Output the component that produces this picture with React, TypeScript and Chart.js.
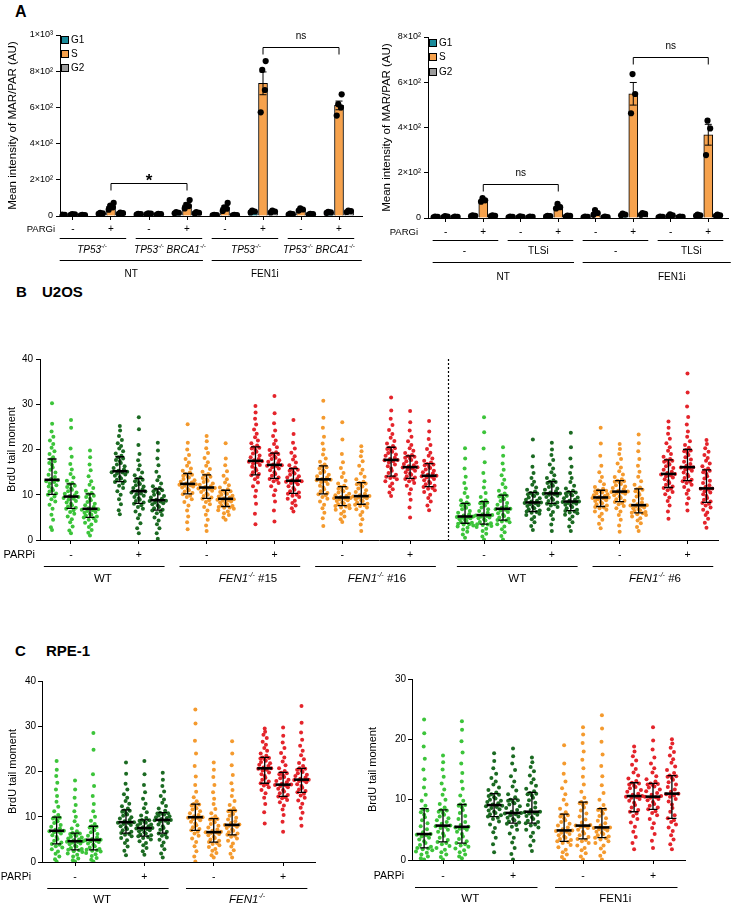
import React, { useEffect, useRef } from 'react';
import { Chart, registerables } from 'chart.js';

Chart.register(...registerables);

const FONT = "'Liberation Sans', Arial, Helvetica, sans-serif";

type Seg = { t: string; i?: boolean; sup?: boolean };

// ================= PANEL A (left) =================
const A_PHASES = ['G1', 'S', 'G2'];
const A1_PARGI = ['-', '+', '-', '+', '-', '+', '-', '+'];
const A1_G1 = [5, 15, 10, 18, 5, 25, 10, 20];
const A1_S = [9, 53, 13, 62, 47, 733, 36, 611];
const A1_G2 = [5, 16, 10, 18, 5, 25, 10, 26];
const A1_G1_SEM = [1, 2, 1, 2, 1, 3, 1, 2];
const A1_S_SEM = [1.5, 8, 1.5, 10, 9, 63, 3.5, 24];
const A1_G2_SEM = [1, 2, 1, 2, 1, 3, 1, 2];
const A1_G1_REPS = [[4, 6, 8], [12, 15, 18], [8, 10, 12], [15, 18, 22], [3, 5, 7], [20, 25, 30], [8, 10, 13], [17, 20, 23]];
const A1_S_REPS = [[6, 9, 11], [35, 48, 58, 72], [10, 13, 15], [42, 55, 62, 88], [28, 40, 48, 72], [573, 696, 807, 856], [30, 36, 42], [555, 600, 618, 672]];
const A1_G2_REPS = [[4, 5, 7], [12, 16, 19], [8, 10, 12], [14, 18, 22], [3, 5, 7], [20, 25, 30], [8, 10, 12], [22, 27, 30]];
const TP53: Seg[] = [{ t: 'TP53', i: true }, { t: '-/-', i: true, sup: true }];
const TP53_BRCA1: Seg[] = [{ t: 'TP53', i: true }, { t: '-/-', i: true, sup: true }, { t: ' BRCA1', i: true }, { t: '-/-', i: true, sup: true }];
const A1_LINES: Seg[][] = [TP53, TP53_BRCA1, TP53, TP53_BRCA1];
const A1_TREAT = ['NT', 'FEN1i'];
const A1_SIG = [{ a: 1, b: 3, y: 180, text: '*' }, { a: 5, b: 7, y: 935, text: 'ns' }];

// ================= PANEL A (right) =================
const A2_PARGI = ['-', '+', '-', '+', '-', '+', '-', '+'];
const A2_G1 = [5, 10, 5, 8, 5, 15, 5, 12];
const A2_S = [6, 79, 5, 51, 24, 549, 12, 368];
const A2_G2 = [5, 10, 5, 9, 4, 18, 5, 12];
const A2_G1_SEM = [1, 1, 1, 1, 1, 2, 1, 2];
const A2_S_SEM = [1, 5, 1, 6, 6, 50, 2, 46];
const A2_G2_SEM = [1, 1, 1, 1, 1, 2, 1, 2];
const A2_G1_REPS = [[3, 5, 6], [8, 10, 12], [3, 5, 6], [6, 8, 10], [3, 5, 6], [12, 15, 19], [3, 5, 6], [10, 12, 15]];
const A2_S_REPS = [[4, 6, 8], [72, 78, 88], [3, 5, 7], [42, 48, 62], [14, 22, 35], [463, 548, 636], [8, 12, 16], [278, 396, 430]];
const A2_G2_REPS = [[3, 5, 6], [8, 10, 12], [3, 5, 6], [6, 9, 11], [3, 4, 6], [14, 18, 22], [3, 5, 6], [10, 12, 15]];
const A2_LINES: Seg[][] = [[{ t: '-' }], [{ t: 'TLSi' }], [{ t: '-' }], [{ t: 'TLSi' }]];
const A2_TREAT = ['NT', 'FEN1i'];
const A2_SIG = [{ a: 1, b: 3, y: 150, text: 'ns' }, { a: 5, b: 7, y: 712, text: 'ns' }];

// ================= PANEL B (U2OS) =================
const B_CELL = ['WT', 'WT', 'FEN1', 'FEN1', 'FEN1', 'FEN1', 'WT', 'WT', 'FEN1', 'FEN1'];
const B_PARPI = ['-', '+', '-', '+', '-', '+', '-', '+', '-', '+'];
const B_GROUPS: Seg[][] = [
  [{ t: 'WT' }],
  [{ t: 'FEN1', i: true }, { t: '-/-', i: true, sup: true }, { t: ' #15' }],
  [{ t: 'FEN1', i: true }, { t: '-/-', i: true, sup: true }, { t: ' #16' }],
  [{ t: 'WT' }],
  [{ t: 'FEN1', i: true }, { t: '-/-', i: true, sup: true }, { t: ' #6' }],
];
const B_MED = [13.3, 9.6, 6.9, 15.2, 10.8, 8.8, 12.4, 11.6, 9.1, 17.5, 16.6, 13.1, 13.4, 9.4, 9.7, 17.7, 16.1, 14.2, 5.2, 5.5, 6.9, 8.3, 10.3, 8.5, 9.4, 10.7, 7.7, 14.6, 16.1, 11.4];
const B_LO = [10.1, 7.0, 5.0, 12.9, 8.1, 6.6, 10.2, 9.2, 7.4, 14.4, 13.6, 10.3, 10.2, 7.6, 7.9, 14.1, 13.6, 11.8, 3.7, 3.5, 4.4, 6.3, 8.1, 6.5, 7.4, 8.5, 6.0, 11.6, 13.1, 8.3];
const B_HI = [17.9, 12.4, 10.2, 18.4, 13.6, 11.3, 14.7, 14.4, 11.0, 20.6, 19.2, 15.8, 16.4, 11.8, 12.7, 20.5, 18.6, 16.9, 8.1, 8.5, 9.9, 10.5, 12.9, 10.7, 11.0, 13.1, 11.3, 17.7, 20.0, 15.5];
const B_POINTS: number[][] = [
  [2.2, 2.8, 4.5, 5.6, 6.9, 7.8, 8.5, 9.0, 9.6, 10.0, 10.3, 10.7, 11.0, 11.4, 11.8, 12.1, 12.5, 12.8, 13.0, 13.2, 13.5, 13.9, 14.4, 14.9, 15.5, 16.0, 16.6, 17.0, 17.4, 17.8, 18.3, 19.0, 19.6, 20.4, 21.2, 22.0, 22.8, 24.0, 25.7, 30.2],
  [1.5, 2.1, 3.0, 3.9, 4.6, 5.2, 5.8, 6.2, 6.6, 6.9, 7.1, 7.4, 7.7, 8.0, 8.3, 8.6, 8.9, 9.1, 9.3, 9.5, 9.7, 9.9, 10.2, 10.5, 10.8, 11.1, 11.4, 11.7, 12.0, 12.3, 12.6, 13.1, 13.8, 14.6, 15.6, 16.8, 18.4, 20.2, 24.8, 26.5],
  [1.0, 1.6, 2.2, 2.9, 3.4, 3.8, 4.2, 4.5, 4.8, 5.0, 5.2, 5.4, 5.6, 5.8, 6.0, 6.2, 6.4, 6.6, 6.7, 6.8, 7.0, 7.3, 7.7, 8.0, 8.4, 8.8, 9.1, 9.5, 9.8, 10.1, 10.4, 10.9, 11.5, 12.2, 13.0, 14.1, 15.4, 16.7, 18.3, 19.8],
  [5.7, 6.6, 7.9, 9.0, 10.0, 10.8, 11.5, 12.0, 12.5, 12.8, 13.0, 13.3, 13.6, 13.9, 14.2, 14.5, 14.7, 14.9, 15.0, 15.1, 15.3, 15.6, 15.9, 16.3, 16.7, 17.0, 17.4, 17.7, 18.0, 18.3, 18.6, 19.1, 19.6, 20.2, 20.8, 21.4, 22.1, 23.0, 24.2, 25.2],
  [1.5, 2.6, 3.7, 4.8, 5.6, 6.3, 6.9, 7.3, 7.7, 8.0, 8.3, 8.6, 8.9, 9.2, 9.5, 9.8, 10.1, 10.3, 10.5, 10.7, 10.9, 11.2, 11.5, 11.8, 12.1, 12.4, 12.7, 13.0, 13.3, 13.5, 13.8, 14.3, 14.9, 15.6, 16.5, 17.6, 19.0, 21.0, 24.5, 27.1],
  [0.3, 1.5, 2.6, 3.5, 4.3, 5.0, 5.5, 5.9, 6.3, 6.5, 6.7, 7.0, 7.3, 7.6, 7.9, 8.1, 8.3, 8.5, 8.6, 8.7, 8.9, 9.1, 9.4, 9.7, 10.0, 10.3, 10.5, 10.8, 11.0, 11.2, 11.5, 11.9, 12.5, 13.2, 14.0, 15.1, 16.5, 18.0, 19.8, 21.5],
  [2.4, 3.9, 5.2, 6.5, 7.6, 8.4, 9.0, 9.5, 9.8, 10.1, 10.4, 10.7, 11.0, 11.3, 11.6, 11.8, 12.0, 12.1, 12.2, 12.3, 12.5, 12.7, 12.9, 13.2, 13.5, 13.8, 14.0, 14.2, 14.4, 14.6, 14.9, 15.3, 15.8, 16.4, 17.1, 17.9, 18.8, 20.0, 21.5, 25.6],
  [2.0, 3.2, 4.5, 5.6, 6.5, 7.3, 7.9, 8.4, 8.8, 9.1, 9.4, 9.7, 10.0, 10.3, 10.6, 10.9, 11.1, 11.3, 11.4, 11.5, 11.7, 11.9, 12.2, 12.5, 12.8, 13.1, 13.4, 13.7, 14.0, 14.3, 14.6, 15.1, 15.7, 16.4, 17.2, 18.1, 19.2, 20.3, 21.8, 23.0],
  [4.5, 5.0, 5.5, 5.9, 6.3, 6.6, 6.9, 7.1, 7.2, 7.3, 7.5, 7.7, 7.9, 8.1, 8.3, 8.5, 8.7, 8.8, 8.9, 9.0, 9.2, 9.4, 9.6, 9.8, 10.0, 10.2, 10.4, 10.6, 10.8, 10.9, 11.2, 11.6, 12.1, 12.7, 13.4, 14.2, 15.2, 16.5, 18.0, 21.4],
  [3.5, 5.8, 8.0, 9.6, 10.9, 11.9, 12.7, 13.4, 13.9, 14.3, 14.6, 15.0, 15.4, 15.8, 16.2, 16.6, 16.9, 17.2, 17.3, 17.4, 17.6, 17.9, 18.3, 18.7, 19.1, 19.5, 19.9, 20.2, 20.4, 20.5, 20.9, 21.4, 22.0, 22.7, 23.5, 24.4, 25.5, 26.8, 28.2, 29.6],
  [4.1, 6.5, 8.5, 9.9, 11.0, 11.9, 12.6, 13.0, 13.3, 13.5, 13.8, 14.2, 14.6, 15.0, 15.4, 15.8, 16.1, 16.3, 16.4, 16.5, 16.7, 17.0, 17.3, 17.6, 17.9, 18.2, 18.5, 18.8, 19.0, 19.1, 19.4, 19.9, 20.5, 21.2, 22.0, 23.0, 24.2, 25.8, 28.0, 31.8],
  [6.3, 7.0, 7.6, 8.2, 8.7, 9.1, 9.5, 9.8, 10.0, 10.2, 10.5, 10.8, 11.1, 11.5, 11.9, 12.3, 12.6, 12.8, 12.9, 13.0, 13.2, 13.5, 13.8, 14.1, 14.4, 14.7, 15.0, 15.3, 15.5, 15.7, 16.0, 16.5, 17.1, 17.8, 18.5, 19.3, 20.2, 21.5, 23.4, 26.5],
  [3.1, 4.8, 6.0, 7.0, 7.8, 8.5, 9.1, 9.5, 9.9, 10.1, 10.4, 10.8, 11.2, 11.6, 12.0, 12.4, 12.8, 13.0, 13.2, 13.3, 13.5, 13.8, 14.1, 14.4, 14.8, 15.1, 15.4, 15.8, 16.1, 16.3, 16.7, 17.3, 18.0, 18.9, 20.0, 21.3, 22.8, 24.8, 27.0, 30.8],
  [4.0, 4.6, 5.2, 5.8, 6.3, 6.7, 7.0, 7.2, 7.4, 7.5, 7.7, 7.9, 8.1, 8.3, 8.6, 8.8, 9.0, 9.1, 9.2, 9.3, 9.5, 9.7, 9.9, 10.2, 10.5, 10.8, 11.0, 11.3, 11.5, 11.7, 12.0, 12.5, 13.1, 13.9, 14.8, 15.9, 17.2, 19.0, 22.2, 26.0],
  [2.0, 3.4, 4.6, 5.5, 6.2, 6.8, 7.2, 7.5, 7.7, 7.8, 8.0, 8.3, 8.6, 8.8, 9.0, 9.2, 9.4, 9.5, 9.6, 9.7, 9.9, 10.2, 10.6, 11.0, 11.4, 11.8, 12.1, 12.3, 12.5, 12.6, 12.9, 13.4, 14.0, 14.7, 15.5, 16.4, 17.4, 18.5, 19.6, 20.7],
  [9.7, 10.5, 11.2, 11.9, 12.5, 13.0, 13.4, 13.7, 13.9, 14.0, 14.4, 14.8, 15.3, 15.8, 16.3, 16.7, 17.1, 17.4, 17.6, 17.7, 17.9, 18.2, 18.6, 18.9, 19.2, 19.5, 19.8, 20.1, 20.3, 20.4, 20.8, 21.3, 21.9, 22.6, 23.4, 24.3, 25.4, 26.8, 28.6, 31.5],
  [5.0, 7.2, 8.9, 10.2, 11.2, 12.0, 12.6, 13.0, 13.3, 13.5, 13.8, 14.1, 14.4, 14.7, 15.0, 15.3, 15.6, 15.8, 16.0, 16.1, 16.3, 16.5, 16.8, 17.1, 17.4, 17.7, 18.0, 18.2, 18.4, 18.5, 18.8, 19.2, 19.7, 20.3, 21.0, 21.8, 22.8, 24.2, 26.0, 28.5],
  [6.6, 7.6, 8.5, 9.3, 10.0, 10.6, 11.0, 11.3, 11.5, 11.7, 12.0, 12.3, 12.6, 12.9, 13.2, 13.5, 13.8, 14.0, 14.1, 14.2, 14.4, 14.7, 15.0, 15.3, 15.6, 15.9, 16.2, 16.5, 16.7, 16.8, 17.1, 17.5, 18.0, 18.6, 19.3, 20.1, 21.0, 22.3, 24.0, 26.3],
  [0.5, 1.2, 1.8, 2.3, 2.7, 3.0, 3.2, 3.4, 3.5, 3.6, 3.8, 4.0, 4.2, 4.4, 4.6, 4.8, 4.9, 5.0, 5.1, 5.2, 5.4, 5.7, 6.0, 6.4, 6.8, 7.1, 7.4, 7.7, 7.9, 8.0, 8.3, 8.8, 9.5, 10.4, 11.4, 12.6, 14.0, 15.8, 18.0, 20.3],
  [0.1, 0.8, 1.4, 2.0, 2.5, 2.9, 3.1, 3.3, 3.4, 3.5, 3.7, 4.0, 4.3, 4.6, 4.8, 5.0, 5.2, 5.3, 5.4, 5.5, 5.7, 6.0, 6.4, 6.8, 7.2, 7.6, 7.9, 8.1, 8.3, 8.4, 8.8, 9.5, 10.4, 11.6, 13.0, 14.8, 17.2, 20.2, 23.8, 27.1],
  [0.1, 0.9, 1.7, 2.4, 3.0, 3.5, 3.9, 4.1, 4.3, 4.4, 4.7, 5.0, 5.3, 5.6, 5.9, 6.2, 6.5, 6.7, 6.8, 6.9, 7.1, 7.4, 7.8, 8.2, 8.6, 9.0, 9.3, 9.6, 9.8, 9.9, 10.3, 10.9, 11.6, 12.4, 13.3, 14.3, 15.5, 16.9, 18.6, 20.5],
  [2.2, 3.1, 3.9, 4.6, 5.1, 5.5, 5.8, 6.0, 6.2, 6.3, 6.5, 6.8, 7.0, 7.3, 7.5, 7.7, 7.9, 8.1, 8.2, 8.3, 8.5, 8.7, 8.9, 9.2, 9.4, 9.7, 9.9, 10.1, 10.3, 10.4, 10.7, 11.1, 11.6, 12.2, 12.9, 13.7, 14.8, 16.2, 18.5, 22.2],
  [2.0, 3.4, 4.6, 5.5, 6.2, 6.8, 7.3, 7.6, 7.9, 8.0, 8.3, 8.6, 8.9, 9.2, 9.5, 9.8, 10.0, 10.1, 10.2, 10.3, 10.5, 10.8, 11.1, 11.4, 11.7, 12.0, 12.3, 12.6, 12.8, 12.9, 13.2, 13.7, 14.3, 15.0, 15.8, 16.7, 17.7, 18.8, 20.0, 21.5],
  [2.0, 3.0, 3.9, 4.6, 5.2, 5.6, 5.9, 6.1, 6.3, 6.4, 6.7, 7.0, 7.3, 7.6, 7.8, 8.0, 8.2, 8.3, 8.4, 8.5, 8.7, 8.9, 9.2, 9.4, 9.7, 9.9, 10.1, 10.3, 10.5, 10.6, 10.9, 11.4, 12.0, 12.8, 13.7, 14.8, 16.2, 18.0, 20.5, 23.7],
  [2.6, 3.6, 4.5, 5.2, 5.8, 6.3, 6.7, 7.0, 7.2, 7.3, 7.6, 7.9, 8.1, 8.4, 8.6, 8.8, 9.0, 9.2, 9.3, 9.4, 9.5, 9.7, 9.9, 10.1, 10.3, 10.5, 10.7, 10.8, 10.9, 11.0, 11.3, 11.7, 12.3, 13.0, 13.9, 15.0, 16.4, 18.6, 21.3, 24.8],
  [1.8, 3.2, 4.5, 5.5, 6.3, 7.0, 7.5, 7.9, 8.2, 8.4, 8.7, 9.0, 9.3, 9.6, 9.9, 10.2, 10.4, 10.5, 10.6, 10.7, 10.9, 11.2, 11.5, 11.8, 12.1, 12.4, 12.7, 12.9, 13.0, 13.1, 13.4, 13.9, 14.5, 15.2, 16.0, 16.9, 17.9, 19.0, 20.1, 21.2],
  [2.0, 2.9, 3.7, 4.3, 4.8, 5.2, 5.5, 5.7, 5.9, 6.0, 6.2, 6.4, 6.6, 6.8, 7.0, 7.2, 7.4, 7.5, 7.6, 7.7, 7.9, 8.3, 8.7, 9.1, 9.6, 10.0, 10.4, 10.8, 11.1, 11.2, 11.6, 12.2, 13.0, 14.0, 15.1, 16.4, 17.9, 19.6, 21.4, 23.3],
  [4.7, 6.3, 7.6, 8.6, 9.4, 10.1, 10.6, 11.0, 11.3, 11.5, 11.8, 12.2, 12.6, 13.0, 13.4, 13.8, 14.1, 14.3, 14.5, 14.6, 14.8, 15.1, 15.5, 15.9, 16.3, 16.7, 17.0, 17.3, 17.5, 17.6, 17.9, 18.4, 19.0, 19.7, 20.5, 21.4, 22.4, 23.5, 24.8, 26.2],
  [6.5, 8.0, 9.2, 10.2, 11.0, 11.7, 12.2, 12.6, 12.9, 13.0, 13.3, 13.7, 14.1, 14.5, 14.9, 15.3, 15.6, 15.8, 16.0, 16.1, 16.4, 16.8, 17.3, 17.8, 18.3, 18.8, 19.2, 19.6, 19.8, 19.9, 20.4, 21.0, 21.8, 22.8, 24.0, 25.5, 27.2, 29.5, 32.6, 36.8],
  [2.7, 3.8, 4.7, 5.5, 6.1, 6.7, 7.2, 7.6, 8.0, 8.2, 8.5, 8.9, 9.3, 9.7, 10.1, 10.5, 10.8, 11.1, 11.3, 11.4, 11.7, 12.1, 12.6, 13.1, 13.6, 14.1, 14.6, 15.0, 15.3, 15.4, 15.8, 16.3, 16.9, 17.5, 18.1, 18.8, 19.5, 20.3, 21.2, 22.1],
];

// ================= PANEL C (RPE-1), left: FEN1-/- =================
const C1_CELL = ['WT', 'WT', 'FEN1', 'FEN1'];
const C1_PARPI = ['-', '+', '-', '+'];
const C1_GROUPS: Seg[][] = [[{ t: 'WT' }], [{ t: 'FEN1', i: true }, { t: '-/-', i: true, sup: true }]];
const C1_MED = [6.9, 4.6, 4.9, 8.8, 7.5, 9.3, 9.9, 6.6, 8.2, 20.7, 17.1, 18.2];
const C1_LO = [4.0, 2.7, 2.7, 6.4, 5.7, 6.4, 7.0, 4.4, 6.0, 17.4, 14.5, 15.4];
const C1_HI = [9.9, 6.4, 7.9, 11.5, 9.3, 10.9, 12.8, 9.6, 11.4, 23.1, 19.8, 20.7];
const C1_POINTS: number[][] = [
  [0.1, 0.6, 1.2, 1.8, 2.3, 2.8, 3.2, 3.5, 3.8, 4.0, 4.3, 4.7, 5.1, 5.5, 5.9, 6.3, 6.6, 6.7, 6.8, 6.9, 7.1, 7.4, 7.8, 8.2, 8.6, 9.0, 9.3, 9.6, 9.8, 9.9, 10.4, 11.2, 12.2, 13.3, 14.6, 16.0, 17.5, 19.0, 20.4, 22.3],
  [0.1, 0.4, 0.8, 1.2, 1.6, 1.9, 2.2, 2.4, 2.6, 2.7, 2.9, 3.1, 3.4, 3.6, 3.9, 4.1, 4.3, 4.4, 4.5, 4.6, 4.8, 5.0, 5.2, 5.4, 5.6, 5.8, 6.0, 6.2, 6.3, 6.4, 6.8, 7.4, 8.1, 9.0, 10.0, 11.2, 12.6, 14.2, 16.0, 18.0],
  [0.1, 0.5, 0.9, 1.3, 1.7, 2.0, 2.3, 2.5, 2.6, 2.7, 2.9, 3.2, 3.5, 3.8, 4.1, 4.4, 4.6, 4.7, 4.8, 4.9, 5.1, 5.4, 5.8, 6.2, 6.6, 7.0, 7.3, 7.6, 7.8, 7.9, 8.4, 9.1, 10.0, 11.2, 12.8, 14.6, 16.8, 19.4, 24.8, 28.5],
  [1.5, 2.5, 3.4, 4.2, 4.8, 5.3, 5.7, 6.0, 6.2, 6.4, 6.7, 7.0, 7.3, 7.6, 7.9, 8.2, 8.4, 8.6, 8.7, 8.8, 9.0, 9.3, 9.6, 9.9, 10.2, 10.5, 10.8, 11.1, 11.3, 11.4, 11.8, 12.3, 12.9, 13.5, 14.2, 15.0, 16.0, 17.3, 19.5, 22.0],
  [1.6, 2.4, 3.1, 3.7, 4.2, 4.6, 5.0, 5.3, 5.5, 5.7, 5.9, 6.1, 6.3, 6.6, 6.8, 7.0, 7.2, 7.3, 7.4, 7.5, 7.7, 7.9, 8.1, 8.3, 8.5, 8.7, 8.9, 9.1, 9.2, 9.3, 9.7, 10.3, 11.0, 11.9, 12.9, 14.0, 15.4, 17.0, 19.4, 22.3],
  [1.0, 1.9, 2.8, 3.6, 4.3, 4.9, 5.4, 5.8, 6.1, 6.3, 6.7, 7.1, 7.5, 7.9, 8.3, 8.6, 8.9, 9.1, 9.2, 9.3, 9.5, 9.7, 9.9, 10.1, 10.3, 10.5, 10.6, 10.7, 10.8, 10.9, 11.3, 11.8, 12.4, 13.1, 13.8, 14.6, 15.6, 16.8, 18.2, 19.7],
  [0.1, 1.2, 2.4, 3.5, 4.4, 5.2, 5.8, 6.3, 6.7, 7.0, 7.3, 7.7, 8.1, 8.5, 8.9, 9.2, 9.5, 9.7, 9.8, 9.9, 10.1, 10.4, 10.8, 11.2, 11.6, 11.9, 12.2, 12.5, 12.7, 12.8, 13.4, 14.3, 15.5, 17.0, 18.9, 21.2, 24.0, 26.8, 30.6, 33.7],
  [1.0, 1.5, 2.0, 2.5, 2.9, 3.3, 3.7, 4.0, 4.2, 4.4, 4.7, 5.0, 5.3, 5.6, 5.9, 6.2, 6.4, 6.5, 6.6, 6.7, 6.9, 7.2, 7.6, 8.0, 8.4, 8.8, 9.1, 9.4, 9.5, 9.6, 10.1, 10.8, 11.7, 12.8, 14.0, 15.4, 17.0, 18.8, 20.4, 22.0],
  [1.0, 1.8, 2.6, 3.4, 4.1, 4.7, 5.2, 5.6, 5.8, 6.0, 6.3, 6.6, 6.9, 7.2, 7.5, 7.8, 8.0, 8.1, 8.2, 8.3, 8.6, 9.0, 9.4, 9.8, 10.2, 10.6, 10.9, 11.2, 11.3, 11.4, 11.9, 12.6, 13.5, 14.6, 15.9, 17.4, 19.2, 21.4, 24.0, 26.7],
  [8.5, 11.0, 12.8, 14.2, 15.2, 15.9, 16.5, 16.9, 17.2, 17.4, 17.8, 18.2, 18.6, 19.0, 19.4, 19.8, 20.2, 20.4, 20.6, 20.7, 20.9, 21.2, 21.5, 21.8, 22.1, 22.4, 22.7, 22.9, 23.0, 23.1, 23.5, 24.0, 24.6, 25.2, 25.9, 26.6, 27.4, 28.1, 28.8, 29.5],
  [6.7, 8.9, 10.4, 11.6, 12.5, 13.2, 13.7, 14.1, 14.3, 14.5, 14.8, 15.2, 15.6, 15.9, 16.2, 16.5, 16.8, 16.9, 17.0, 17.1, 17.3, 17.6, 17.9, 18.2, 18.5, 18.8, 19.1, 19.4, 19.6, 19.7, 20.1, 20.7, 21.4, 22.2, 23.1, 24.1, 25.2, 26.4, 27.9, 29.7],
  [8.0, 9.6, 10.9, 12.0, 12.9, 13.6, 14.2, 14.7, 15.1, 15.4, 15.7, 16.0, 16.4, 16.8, 17.2, 17.6, 17.9, 18.0, 18.1, 18.2, 18.4, 18.7, 19.0, 19.3, 19.6, 19.9, 20.2, 20.4, 20.6, 20.7, 21.2, 21.9, 22.7, 23.6, 24.6, 25.7, 27.0, 28.6, 30.8, 34.5],
];

// ================= PANEL C (RPE-1), right: FEN1i =================
const C2_CELL = ['WT', 'WT', 'FEN1', 'FEN1'];
const C2_PARPI = ['-', '+', '-', '+'];
const C2_GROUPS: Seg[][] = [[{ t: 'WT' }], [{ t: 'FEN1i' }]];
const C2_MED = [4.3, 5.7, 5.5, 9.1, 7.8, 8.0, 4.9, 5.7, 5.4, 10.6, 10.5, 11.0];
const C2_LO = [2.0, 3.0, 2.8, 7.2, 6.1, 6.1, 3.1, 3.5, 3.7, 8.0, 8.4, 6.9];
const C2_HI = [8.5, 8.3, 9.2, 11.0, 10.1, 11.2, 7.6, 9.6, 8.5, 12.8, 12.7, 14.0];
const C2_POINTS: number[][] = [
  [0.1, 0.3, 0.6, 0.9, 1.2, 1.4, 1.6, 1.8, 1.9, 2.0, 2.2, 2.5, 2.8, 3.1, 3.4, 3.7, 3.9, 4.1, 4.2, 4.3, 4.6, 5.1, 5.6, 6.1, 6.6, 7.1, 7.5, 7.9, 8.2, 8.4, 9.0, 9.8, 10.8, 12.0, 13.4, 15.0, 16.8, 18.8, 21.0, 23.3],
  [0.1, 0.5, 0.9, 1.3, 1.7, 2.0, 2.3, 2.6, 2.8, 3.0, 3.3, 3.7, 4.0, 4.4, 4.7, 5.0, 5.3, 5.5, 5.6, 5.7, 6.0, 6.3, 6.6, 6.9, 7.2, 7.5, 7.8, 8.0, 8.2, 8.3, 8.7, 9.3, 10.0, 10.8, 11.7, 12.7, 13.8, 15.0, 16.2, 17.3],
  [0.3, 0.6, 0.9, 1.3, 1.6, 1.9, 2.2, 2.4, 2.6, 2.8, 3.1, 3.5, 3.9, 4.3, 4.7, 5.0, 5.2, 5.3, 5.4, 5.5, 5.8, 6.3, 6.8, 7.3, 7.8, 8.3, 8.7, 9.0, 9.1, 9.2, 9.8, 10.7, 11.8, 13.0, 14.4, 16.0, 17.8, 19.7, 21.6, 23.0],
  [1.3, 2.6, 3.7, 4.6, 5.3, 5.9, 6.4, 6.8, 7.0, 7.2, 7.4, 7.6, 7.8, 8.0, 8.2, 8.4, 8.6, 8.8, 8.9, 9.0, 9.2, 9.4, 9.6, 9.8, 10.0, 10.2, 10.4, 10.6, 10.8, 10.9, 11.2, 11.6, 12.0, 12.5, 13.0, 13.6, 14.3, 15.2, 16.4, 17.7],
  [0.1, 1.0, 2.0, 2.9, 3.7, 4.4, 5.0, 5.5, 5.8, 6.0, 6.2, 6.4, 6.6, 6.8, 7.0, 7.2, 7.4, 7.6, 7.7, 7.8, 8.0, 8.3, 8.6, 8.9, 9.2, 9.4, 9.6, 9.8, 9.9, 10.0, 10.4, 10.9, 11.5, 12.2, 13.0, 13.9, 14.9, 16.0, 17.2, 18.5],
  [1.5, 2.4, 3.2, 3.9, 4.5, 5.0, 5.4, 5.7, 5.9, 6.1, 6.3, 6.5, 6.8, 7.1, 7.3, 7.5, 7.7, 7.8, 7.9, 8.0, 8.3, 8.7, 9.1, 9.5, 9.9, 10.3, 10.7, 10.9, 11.0, 11.1, 11.4, 11.8, 12.3, 12.8, 13.4, 14.0, 14.7, 15.4, 16.2, 17.0],
  [0.1, 0.5, 0.9, 1.3, 1.7, 2.1, 2.5, 2.8, 3.0, 3.1, 3.3, 3.5, 3.7, 3.9, 4.1, 4.3, 4.5, 4.7, 4.8, 4.9, 5.1, 5.4, 5.7, 6.0, 6.3, 6.6, 6.9, 7.2, 7.4, 7.5, 7.9, 8.5, 9.2, 10.0, 10.9, 11.9, 13.0, 14.3, 16.0, 19.0],
  [0.1, 0.6, 1.1, 1.6, 2.0, 2.4, 2.8, 3.1, 3.3, 3.5, 3.8, 4.1, 4.4, 4.7, 5.0, 5.3, 5.5, 5.6, 5.7, 5.8, 6.2, 6.7, 7.2, 7.7, 8.2, 8.7, 9.1, 9.4, 9.5, 9.6, 10.3, 11.3, 12.5, 13.8, 15.2, 16.6, 18.0, 19.4, 20.8, 22.0],
  [0.1, 0.7, 1.3, 1.9, 2.4, 2.8, 3.1, 3.4, 3.6, 3.7, 3.9, 4.1, 4.3, 4.5, 4.7, 4.9, 5.1, 5.2, 5.3, 5.4, 5.7, 6.1, 6.5, 6.9, 7.3, 7.7, 8.0, 8.3, 8.4, 8.5, 9.1, 10.0, 11.1, 12.4, 13.9, 15.6, 17.5, 19.6, 21.8, 24.0],
  [1.8, 2.8, 3.8, 4.7, 5.5, 6.2, 6.8, 7.3, 7.7, 8.0, 8.3, 8.7, 9.1, 9.5, 9.8, 10.1, 10.3, 10.4, 10.5, 10.6, 10.8, 11.0, 11.3, 11.6, 11.9, 12.1, 12.3, 12.5, 12.7, 12.8, 13.1, 13.5, 14.0, 14.5, 15.1, 15.8, 16.5, 17.2, 18.0, 18.8],
  [2.0, 3.2, 4.3, 5.3, 6.1, 6.8, 7.4, 7.8, 8.1, 8.4, 8.7, 9.0, 9.3, 9.6, 9.9, 10.1, 10.3, 10.4, 10.5, 10.6, 10.8, 11.1, 11.4, 11.7, 12.0, 12.2, 12.4, 12.5, 12.6, 12.7, 13.0, 13.4, 13.9, 14.5, 15.2, 16.0, 17.0, 18.3, 19.8, 22.0],
  [1.8, 2.6, 3.4, 4.1, 4.8, 5.4, 5.9, 6.3, 6.6, 6.9, 7.4, 8.0, 8.6, 9.2, 9.7, 10.1, 10.5, 10.7, 10.9, 11.0, 11.3, 11.7, 12.1, 12.5, 12.9, 13.3, 13.6, 13.8, 13.9, 14.0, 14.4, 14.9, 15.5, 16.1, 16.7, 17.3, 17.9, 18.6, 19.3, 20.0],
];

// ================= STYLES =================
const PHASE_COLORS = ['#1a8b9b', '#f6a24d', '#9b9b9b'];
const DOT_COLORS: Record<string, string> = {
  'WT-': '#3cc43a',
  'WT+': '#1b6a22',
  'FEN1-': '#f49a2e',
  'FEN1+': '#e4242b',
};

// ================= helpers =================
function drawRich(ctx: CanvasRenderingContext2D, segs: Seg[], cx: number, cy: number, size: number) {
  const fontOf = (s: Seg) => `${s.i ? 'italic ' : ''}${s.sup ? (size * 0.62).toFixed(1) : size}px ${FONT}`;
  let total = 0;
  for (const s of segs) { ctx.font = fontOf(s); total += ctx.measureText(s.t).width; }
  let x = cx - total / 2;
  ctx.textAlign = 'left';
  ctx.textBaseline = 'middle';
  for (const s of segs) {
    ctx.font = fontOf(s);
    ctx.fillText(s.t, x, s.sup ? cy - size * 0.36 : cy);
    x += ctx.measureText(s.t).width;
  }
}

type Level = { lineDy: number; labelDy: number; font: number; items: { x0: number; x1: number; lx: number; label: Seg[] }[] };
type Annot = { rowLabel: string; rowGap: number; rowFont: number; signFont: number; signs: string[]; signX: number[]; signDy: number; levels: Level[] };

function annotPlugin(a: Annot) {
  return {
    id: 'annot',
    afterDraw(chart: any) {
      const { ctx, chartArea, scales } = chart;
      const xs = scales.x;
      const base = chartArea.bottom;
      ctx.save();
      ctx.fillStyle = '#000';
      ctx.strokeStyle = '#000';
      ctx.font = `${a.rowFont}px ${FONT}`;
      ctx.textAlign = 'right';
      ctx.textBaseline = 'middle';
      ctx.fillText(a.rowLabel, chartArea.left - a.rowGap, base + a.signDy);
      ctx.font = `${a.signFont}px ${FONT}`;
      ctx.textAlign = 'center';
      a.signs.forEach((s, i) => ctx.fillText(s, xs.getPixelForValue(a.signX[i]), base + a.signDy));
      for (const lv of a.levels) {
        for (const it of lv.items) {
          const y = Math.round(base + lv.lineDy) + 0.5;
          ctx.lineWidth = 1;
          ctx.beginPath();
          ctx.moveTo(xs.getPixelForValue(it.x0), y);
          ctx.lineTo(xs.getPixelForValue(it.x1), y);
          ctx.stroke();
          drawRich(ctx, it.label, xs.getPixelForValue(it.lx), base + lv.labelDy, lv.font);
        }
      }
      ctx.restore();
    },
  };
}

function axisStyle(tickSize: number, tickPad: number) {
  return {
    grid: { display: true, drawOnChartArea: false, drawTicks: true, tickLength: 4, color: '#000', lineWidth: 1, offset: false },
    border: { display: true, color: '#000', width: 1 },
    ticks: { font: { size: tickSize, family: FONT }, color: '#000', padding: tickPad },
  };
}

// ================= bar panel =================
type BarOpts = {
  g1: number[]; s: number[]; g2: number[]; sem: number[][]; reps: number[][][];
  pargi: string[]; lines: Seg[][]; treat: string[]; sig: { a: number; b: number; y: number; text: string }[];
  yMax: number; xMin: number; xMax: number; yW: number; xH: number; padTop: number; padRight: number;
  titlePad: number; legendDy: number[]; lineLx: number[]; treatLx: number[]; rowGap: number;
  dys: number[];
};

const JA = [-0.06, 0.05, -0.02, 0.07];
const sci = (v: number) => (v === 0 ? '0' : v >= 1000 ? `${v / 1000}×10³` : `${v / 100}×10²`);

function barConfig(o: BarOpts) {
  const offs = [-0.265, 0, 0.265];
  const vals = [o.g1, o.s, o.g2];
  const centers = o.pargi.map((_, i) => i);
  const bars = vals.map((arr, p) => ({
    type: 'bar',
    label: A_PHASES[p],
    data: arr.map((v, i) => ({ x: i + offs[p], y: v })),
    backgroundColor: PHASE_COLORS[p],
    borderColor: '#000',
    borderWidth: 1,
    barThickness: 9,
    grouped: false,
    order: 3,
  }));
  const dots = o.reps.map((rr, p) => ({
    type: 'scatter',
    data: rr.flatMap((list, i) => list.map((v, j) => ({ x: i + offs[p] + JA[j % JA.length], y: v }))),
    pointRadius: 3.1,
    pointBackgroundColor: '#000',
    pointBorderWidth: 0,
    order: 1,
  }));
  const annot: Annot = {
    rowLabel: 'PARGi', rowGap: o.rowGap, rowFont: 9.5, signFont: 10, signs: o.pargi, signX: centers, signDy: o.dys[0],
    levels: [
      { lineDy: o.dys[1], labelDy: o.dys[2], font: 10, items: o.lines.map((l, g) => ({ x0: 2 * g - 0.35, x1: 2 * g + 1.4, lx: o.lineLx[g], label: l })) },
      { lineDy: o.dys[3], labelDy: o.dys[4], font: 10, items: o.treat.map((t, g) => ({ x0: 4 * g - 0.35, x1: 4 * g + 3.42 + (g === 1 ? 0.18 : 0), lx: o.treatLx[g], label: [{ t }] })) },
    ],
  };
  const extras = {
    id: 'extras',
    afterDatasetsDraw(chart: any) {
      const { ctx, scales: { x, y }, chartArea } = chart;
      ctx.save();
      ctx.strokeStyle = '#000';
      ctx.fillStyle = '#000';
      ctx.lineWidth = 1;
      // error bars
      vals.forEach((arr, p) => arr.forEach((v, i) => {
        const px = x.getPixelForValue(i + offs[p]);
        const y1 = y.getPixelForValue(v + o.sem[p][i]);
        const y0 = y.getPixelForValue(Math.max(0, v - o.sem[p][i]));
        ctx.beginPath();
        ctx.moveTo(px, y0); ctx.lineTo(px, y1);
        ctx.moveTo(px - 3.5, y1); ctx.lineTo(px + 3.5, y1);
        ctx.moveTo(px - 3.5, y0); ctx.lineTo(px + 3.5, y0);
        ctx.stroke();
      }));
      // significance brackets
      o.sig.forEach((s) => {
        const xa = x.getPixelForValue(s.a), xb = x.getPixelForValue(s.b);
        const yy = Math.round(y.getPixelForValue(s.y)) + 0.5;
        ctx.beginPath();
        ctx.moveTo(xa, yy + 7); ctx.lineTo(xa, yy); ctx.lineTo(xb, yy); ctx.lineTo(xb, yy + 7);
        ctx.stroke();
        ctx.textAlign = 'center';
        ctx.textBaseline = 'alphabetic';
        if (s.text === '*') {
          ctx.font = `bold 17px ${FONT}`;
          ctx.fillText(s.text, (xa + xb) / 2, yy + 2);
        } else {
          ctx.font = `10px ${FONT}`;
          ctx.fillText(s.text, (xa + xb) / 2, yy - 9);
        }
      });
      // legend
      ctx.font = `10px ${FONT}`;
      ctx.textAlign = 'left';
      ctx.textBaseline = 'middle';
      A_PHASES.forEach((ph, p) => {
        const cy = chartArea.top + o.legendDy[p];
        ctx.fillStyle = PHASE_COLORS[p];
        ctx.fillRect(chartArea.left + 1.5, cy - 3.5, 7, 7);
        ctx.strokeRect(chartArea.left + 1.5, cy - 3.5, 7, 7);
        ctx.fillStyle = '#000';
        ctx.fillText(ph, chartArea.left + 11, cy + 0.5);
      });
      ctx.restore();
    },
  };
  const ax = axisStyle(9, 3);
  return {
    type: 'bar',
    data: { datasets: [...bars, ...dots] },
    options: {
      animation: false,
      responsive: false,
      layout: { padding: { left: 0, top: o.padTop, right: o.padRight, bottom: 0 } },
      plugins: { legend: { display: false }, tooltip: { enabled: false }, title: { display: false } },
      scales: {
        x: {
          type: 'linear', min: o.xMin, max: o.xMax, offset: false,
          afterBuildTicks: (s: any) => { s.ticks = centers.map((v) => ({ value: v })); },
          afterFit: (s: any) => { s.height = o.xH; },
          grid: ax.grid, border: ax.border,
          ticks: { display: false },
        },
        y: {
          type: 'linear', min: 0, max: o.yMax,
          afterFit: (s: any) => { s.width = o.yW; },
          grid: ax.grid, border: ax.border,
          ticks: { ...ax.ticks, stepSize: 200, callback: (v: number) => sci(v) },
          title: { display: true, text: 'Mean intensity of MAR/PAR (AU)', color: '#000', font: { size: 11.5, family: FONT }, padding: { top: o.titlePad, bottom: 0 } },
        },
      },
    },
    plugins: [extras, annotPlugin(annot)],
  };
}

// ================= dot panel =================
const JIT = [0, -0.62, 0.62, -0.31, 0.31, -0.93, 0.93, -0.16, 0.47, -0.78, 0.78, -0.47, 0.16];
function swarm(values: number[], x: number, half: number, band: number) {
  return values.map((v, i) => {
    let n = 0;
    for (const u of values) if (Math.abs(u - v) <= band) n++;
    const w = half * Math.min(1, n / 10);
    return { x: x + JIT[i % JIT.length] * w, y: v };
  });
}

type DotOpts = {
  cell: string[]; parpi: string[]; points: number[][]; med: number[]; lo: number[]; hi: number[];
  centers: number[]; colStep: number; xMin: number; xMax: number; yMax: number;
  yW: number; xH: number; padTop: number; padRight: number; titlePad: number; tickPad: number;
  half: number; annot: Annot; divider?: number;
};

function dotConfig(o: DotOpts) {
  const colX: number[] = [];
  const colColor: string[] = [];
  o.centers.forEach((c, k) => {
    for (let j = -1; j <= 1; j++) {
      colX.push(c + j * o.colStep);
      colColor.push(DOT_COLORS[o.cell[k] + o.parpi[k]]);
    }
  });
  const datasets = o.points.map((vals, k) => ({
    type: 'scatter',
    data: swarm(vals, colX[k], o.half, 1.1),
    pointRadius: 2.0,
    pointBackgroundColor: colColor[k],
    pointBorderWidth: 0,
  }));
  const medPlugin = {
    id: 'med',
    afterDatasetsDraw(chart: any) {
      const { ctx, scales: { x, y }, chartArea } = chart;
      ctx.save();
      ctx.strokeStyle = '#000';
      if (o.divider !== undefined) {
        const dx = Math.round(x.getPixelForValue(o.divider)) + 0.5;
        ctx.lineWidth = 1.2;
        ctx.setLineDash([2, 2]);
        ctx.beginPath();
        ctx.moveTo(dx, chartArea.top);
        ctx.lineTo(dx, chartArea.bottom);
        ctx.stroke();
        ctx.setLineDash([]);
      }
      colX.forEach((cx, k) => {
        const px = x.getPixelForValue(cx);
        const ym = y.getPixelForValue(o.med[k]);
        const yl = y.getPixelForValue(o.lo[k]);
        const yh = y.getPixelForValue(o.hi[k]);
        ctx.lineWidth = 1.3;
        ctx.beginPath();
        ctx.moveTo(px, yl); ctx.lineTo(px, yh);
        ctx.moveTo(px - 4.5, yl); ctx.lineTo(px + 4.5, yl);
        ctx.moveTo(px - 4.5, yh); ctx.lineTo(px + 4.5, yh);
        ctx.stroke();
        ctx.lineWidth = 2.6;
        ctx.beginPath();
        ctx.moveTo(px - 7.5, ym); ctx.lineTo(px + 7.5, ym);
        ctx.stroke();
      });
      ctx.restore();
    },
  };
  const ax = axisStyle(10, o.tickPad);
  return {
    type: 'scatter',
    data: { datasets },
    options: {
      animation: false,
      responsive: false,
      layout: { padding: { left: 0, top: o.padTop, right: o.padRight, bottom: 0 } },
      plugins: { legend: { display: false }, tooltip: { enabled: false }, title: { display: false } },
      scales: {
        x: {
          type: 'linear', min: o.xMin, max: o.xMax, offset: false,
          afterBuildTicks: (s: any) => { s.ticks = o.centers.map((v) => ({ value: v })); },
          afterFit: (s: any) => { s.height = o.xH; },
          grid: ax.grid, border: ax.border,
          ticks: { display: false },
        },
        y: {
          type: 'linear', min: 0, max: o.yMax,
          afterFit: (s: any) => { s.width = o.yW; },
          grid: ax.grid, border: ax.border,
          ticks: { ...ax.ticks, stepSize: 10 },
          title: { display: true, text: 'BrdU tail moment', color: '#000', font: { size: 11, family: FONT }, padding: { top: o.titlePad, bottom: 0 } },
        },
      },
    },
    plugins: [medPlugin, annotPlugin(o.annot)],
  };
}

// ================= components =================
function ChartBox({ l, t, w, h, make }: { l: number; t: number; w: number; h: number; make: () => any }) {
  const ref = useRef<HTMLCanvasElement>(null);
  useEffect(() => {
    const chart = new Chart(ref.current as HTMLCanvasElement, make());
    return () => chart.destroy();
  }, []);
  return (
    <div style={{ position: 'absolute', left: l, top: t, width: w, height: h }}>
      <canvas ref={ref} width={w} height={h} style={{ width: w, height: h, display: 'block' }} />
    </div>
  );
}

const label = (text: string, left: number, top: number, size: number) => (
  <div style={{ position: 'absolute', left, top, fontFamily: FONT, fontWeight: 'bold', fontSize: size, lineHeight: `${size}px`, color: '#000', whiteSpace: 'nowrap' }}>{text}</div>
);

export default function App() {
  const bCenters = [0, 1, 2, 3, 4, 5, 6.09, 7.09, 8.09, 9.09];
  const bGroupX = [[0, 1], [2, 3], [4, 5], [6.09, 7.09], [8.09, 9.09]];
  const bLabelX = [0.47, 2.61, 4.51, 6.58, 8.61];
  const c4 = [0, 1, 2, 3];
  return (
    <div style={{ position: 'absolute', left: 0, top: 0, width: 732, height: 906, overflow: 'hidden', background: '#fff' }}>
      {label('A', 15, 3.5, 16)}
      {label('B', 16, 284, 15)}
      {label('U2OS', 42, 284, 15)}
      {label('C', 15, 643, 15)}
      {label('RPE-1', 46, 643, 15)}
      <ChartBox l={0} t={25} w={366} h={260} make={() => barConfig({
        g1: A1_G1, s: A1_S, g2: A1_G2, sem: [A1_G1_SEM, A1_S_SEM, A1_G2_SEM], reps: [A1_G1_REPS, A1_S_REPS, A1_G2_REPS],
        pargi: A1_PARGI, lines: A1_LINES, treat: A1_TREAT, sig: A1_SIG,
        yMax: 1000, xMin: -0.342, xMax: 7.605, yW: 60, xH: 69, padTop: 10, padRight: 4, titlePad: 6,
        legendDy: [5, 19, 33], lineLx: [0.5, 2.55, 4.55, 6.47], treatLx: [1.53, 5.05], rowGap: 5,
        dys: [13, 22, 34, 44, 58],
      })} />
      <ChartBox l={370} t={27} w={362} h={260} make={() => barConfig({
        g1: A2_G1, s: A2_S, g2: A2_G2, sem: [A2_G1_SEM, A2_S_SEM, A2_G2_SEM], reps: [A2_G1_REPS, A2_S_REPS, A2_G2_REPS],
        pargi: A2_PARGI, lines: A2_LINES, treat: A2_TREAT, sig: A2_SIG,
        yMax: 800, xMin: -0.474, xMax: 7.526, yW: 58, xH: 69, padTop: 10, padRight: 1, titlePad: 10,
        legendDy: [6, 20, 35], lineLx: [0.5, 2.47, 4.53, 6.55], treatLx: [1.53, 6.03], rowGap: 10,
        dys: [14, 22, 33, 44, 59],
      })} />
      <ChartBox l={0} t={349} w={732} h={241} make={() => dotConfig({
        cell: B_CELL, parpi: B_PARPI, points: B_POINTS, med: B_MED, lo: B_LO, hi: B_HI,
        centers: bCenters, colStep: 0.28, xMin: -0.457, xMax: 9.54, yMax: 40,
        yW: 40, xH: 50, padTop: 10, padRight: 14, titlePad: 5, tickPad: 3, half: 0.13, divider: 5.56,
        annot: {
          rowLabel: 'PARPi', rowGap: 5, rowFont: 11, signFont: 10.5, signs: B_PARPI, signX: bCenters, signDy: 15,
          levels: [{ lineDy: 26, labelDy: 39, font: 11.5, items: B_GROUPS.map((g, i) => ({ x0: bGroupX[i][0] - 0.4, x1: bGroupX[i][1] + 0.38, lx: bLabelX[i], label: g })) }],
        },
      })} />
      <ChartBox l={0} t={671} w={350} h={235} make={() => dotConfig({
        cell: C1_CELL, parpi: C1_PARPI, points: C1_POINTS, med: C1_MED, lo: C1_LO, hi: C1_HI,
        centers: c4, colStep: 0.265, xMin: -0.476, xMax: 3.46, yMax: 40,
        yW: 42, xH: 44, padTop: 10, padRight: 35, titlePad: 6, tickPad: 2, half: 0.125,
        annot: {
          rowLabel: 'PARPi', rowGap: 11, rowFont: 10.5, signFont: 10.5, signs: C1_PARPI, signX: c4, signDy: 15,
          levels: [{ lineDy: 26, labelDy: 38, font: 11.5, items: C1_GROUPS.map((g, i) => ({ x0: 2 * i - 0.4, x1: 2 * i + 1.35, lx: [0.39, 2.48][i], label: g })) }],
        },
      })} />
      <ChartBox l={362} t={669} w={370} h={237} make={() => dotConfig({
        cell: C2_CELL, parpi: C2_PARPI, points: C2_POINTS, med: C2_MED, lo: C2_LO, hi: C2_HI,
        centers: c4, colStep: 0.27, xMin: -0.443, xMax: 3.457, yMax: 30,
        yW: 50, xH: 46, padTop: 10, padRight: 47, titlePad: 4, tickPad: 2, half: 0.125,
        annot: {
          rowLabel: 'PARPi', rowGap: 8, rowFont: 10.5, signFont: 10.5, signs: C2_PARPI, signX: c4, signDy: 16,
          levels: [{ lineDy: 27, labelDy: 39, font: 11.5, items: C2_GROUPS.map((g, i) => ({ x0: 2 * i - 0.4, x1: 2 * i + 1.35, lx: [0.39, 2.46][i], label: g })) }],
        },
      })} />
    </div>
  );
}
